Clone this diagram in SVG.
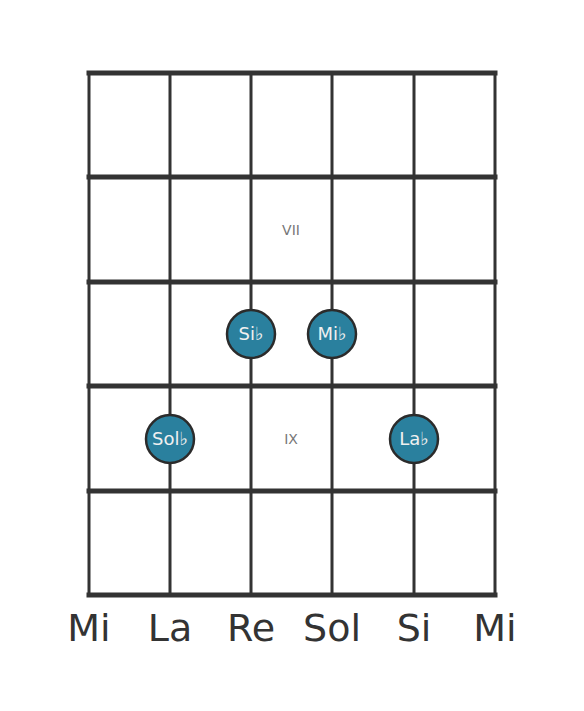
<svg xmlns="http://www.w3.org/2000/svg" width="584" height="711" viewBox="0 0 584 711">
<style>
.fret{stroke:#333;stroke-width:5;stroke-linecap:square}
.string{stroke:#333;stroke-width:3}
.dot{fill:#2a809e;stroke:#2b2b2b;stroke-width:2.5}
.lbl{font-family:"DejaVu Sans",sans-serif;font-size:18px;fill:#f0f0f0;text-anchor:middle}
.pos{font-family:"DejaVu Sans",sans-serif;font-size:14px;fill:#777;text-anchor:middle}
.name{font-family:"DejaVu Sans",sans-serif;font-size:38px;fill:#333;text-anchor:middle}
</style>
<rect width="584" height="711" fill="#fff"/>
<g id="grid">
<line class="string" x1="89" y1="73" x2="89" y2="595"/>
<line class="string" x1="170" y1="73" x2="170" y2="595"/>
<line class="string" x1="251" y1="73" x2="251" y2="595"/>
<line class="string" x1="332" y1="73" x2="332" y2="595"/>
<line class="string" x1="414" y1="73" x2="414" y2="595"/>
<line class="string" x1="495" y1="73" x2="495" y2="595"/>
<line class="fret" x1="89" y1="73" x2="495" y2="73"/>
<line class="fret" x1="89" y1="177" x2="495" y2="177"/>
<line class="fret" x1="89" y1="282" x2="495" y2="282"/>
<line class="fret" x1="89" y1="386" x2="495" y2="386"/>
<line class="fret" x1="89" y1="491" x2="495" y2="491"/>
<line class="fret" x1="89" y1="595" x2="495" y2="595"/>
</g>
<g id="positions">
<text class="pos" x="291" y="235">VII</text>
<text class="pos" x="291" y="444">IX</text>
</g>
<g id="n-sib"><circle class="dot" cx="251" cy="334" r="24"/><text class="lbl" x="251" y="340">Si♭</text></g>
<g id="n-mib"><circle class="dot" cx="332" cy="334" r="24"/><text class="lbl" x="332" y="340">Mi♭</text></g>
<g id="n-solb"><circle class="dot" cx="170" cy="439" r="24"/><text class="lbl" x="170" y="445">Sol♭</text></g>
<g id="n-lab"><circle class="dot" cx="414" cy="439" r="24"/><text class="lbl" x="414" y="445">La♭</text></g>
<g id="strings-names">
<text class="name" x="89" y="641">Mi</text>
<text class="name" x="170" y="641">La</text>
<text class="name" x="251" y="641">Re</text>
<text class="name" x="332" y="641">Sol</text>
<text class="name" x="414" y="641">Si</text>
<text class="name" x="495" y="641">Mi</text>
</g>
</svg>
